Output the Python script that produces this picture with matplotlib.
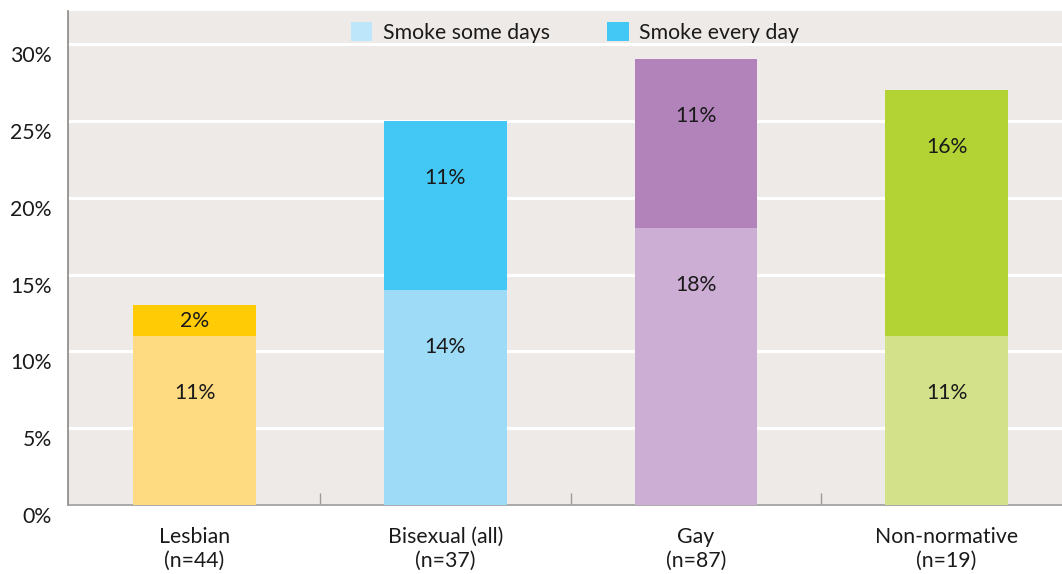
import matplotlib
matplotlib.use("Agg")
import matplotlib.pyplot as plt
import matplotlib.transforms as mtransforms
from matplotlib.patches import Patch
import numpy as np

categories = ["Lesbian\n(n=44)", "Bisexual (all)\n(n=37)", "Gay\n(n=87)", "Non-normative\n(n=19)"]
some_days = [11, 14, 18, 11]
every_day = [2, 11, 11, 16]
light_colors = ["#FEDB81", "#9DDBF6", "#CCADD4", "#D3E18A"]
dark_colors = ["#FFCB05", "#43C8F5", "#B283BA", "#B3D335"]
legend_labels = ["Smoke some days", "Smoke every day"]
legend_colors = ["#BDE6FA", "#43C8F5"]
yticks = [0, 5, 10, 15, 20, 25, 30]

plt.rcParams['font.family'] = ['Lato', 'DejaVu Sans']
FS = 15.3

fig = plt.figure(figsize=(10.62, 5.74), dpi=100)
ax = fig.add_axes([68.5/1062, 1 - 505/574, (1062-68.5)/1062, (505-11)/574])
ax.set_facecolor("#EEEAE7")

x = np.arange(len(categories))
w = 0.49
ax.bar(x, some_days, width=w, color=light_colors, zorder=3)
ax.bar(x, every_day, width=w, bottom=some_days, color=dark_colors, zorder=3)

def label_y(bottom, height):
    top = bottom + height
    if height < 7.4:
        return bottom + height / 2
    return top - 3.7

for i in range(len(categories)):
    ax.text(x[i], label_y(0, some_days[i]), f"{some_days[i]}%", ha="center", va="center",
            fontsize=FS, color="#1a1a1a", zorder=4)
    ax.text(x[i], label_y(some_days[i], every_day[i]), f"{every_day[i]}%", ha="center", va="center",
            fontsize=FS, color="#1a1a1a", zorder=4)

ax.set_ylim(0, 32.15)
ax.set_xlim(-0.503, 3.46)
ax.set_yticks(yticks)
ax.set_yticklabels([f"{t}%" for t in yticks], fontsize=FS, color="#1a1a1a")
ax.yaxis.grid(True, color="white", linewidth=2.2, zorder=1)
ax.set_axisbelow(True)
ax.tick_params(axis="y", length=0, pad=12)
offset = mtransforms.ScaledTranslation(0, -10/100, fig.dpi_scale_trans)
for lab in ax.get_yticklabels():
    lab.set_transform(lab.get_transform() + offset)

ax.set_xticks([0.5, 1.5, 2.5])
ax.set_xticklabels([])
ax.tick_params(axis="x", direction="in", length=9, color="#999999", width=1)
ax.set_xticks(x, minor=True)
ax.set_xticklabels(categories, minor=True, fontsize=FS, color="#1a1a1a", linespacing=1.2)
ax.tick_params(axis="x", which="minor", length=0, pad=16)

for s in ["top", "right"]:
    ax.spines[s].set_visible(False)
ax.spines["left"].set_color("#888888")
ax.spines["bottom"].set_color("#999999")
ax.spines["left"].set_linewidth(1.2)
ax.spines["bottom"].set_linewidth(1.2)

handles = [Patch(facecolor=c, edgecolor="none") for c in legend_colors]
leg = ax.legend(handles, legend_labels, loc="upper center", bbox_to_anchor=(0.51, 1.012), ncol=2,
                frameon=False, fontsize=FS, handlelength=1.0, handleheight=1.0,
                handletextpad=0.5, columnspacing=2.7, borderpad=0.3)
for t in leg.get_texts():
    t.set_color("#1a1a1a")

fig.savefig("out.png", dpi=100)
